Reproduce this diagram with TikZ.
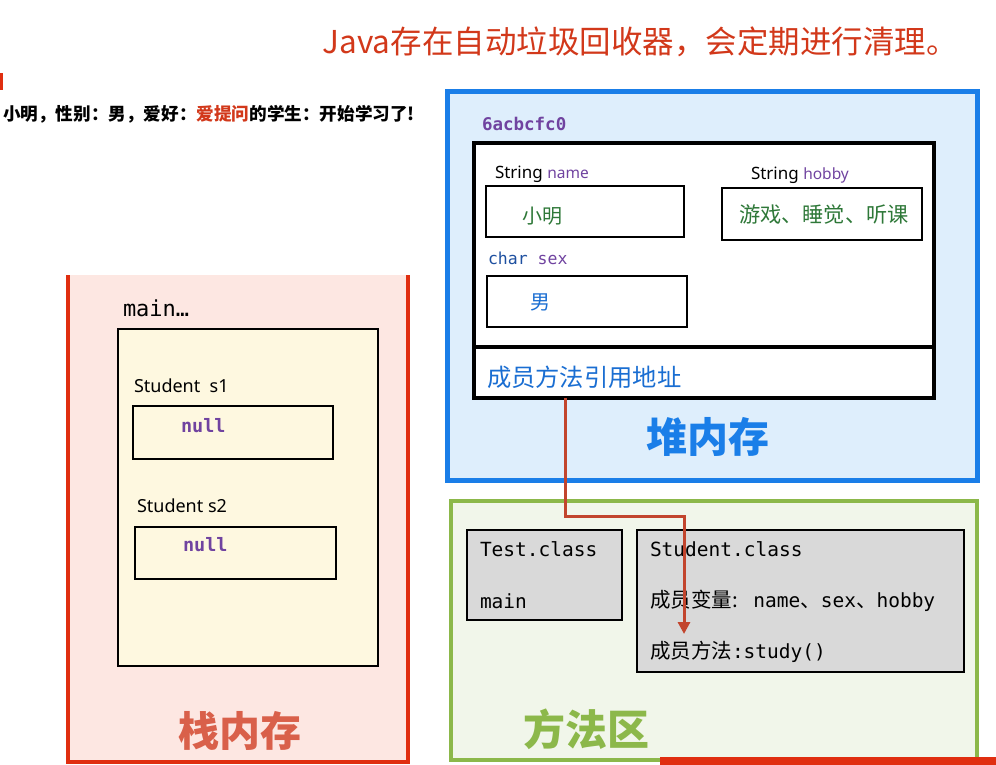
\documentclass[tikz,border=0pt]{standalone}
\usepackage{fontspec}
\setmainfont{Noto Sans}
\newfontfamily\cjk{Noto Sans CJK SC}
\newfontfamily\mono{DejaVu Sans Mono}
\usetikzlibrary{arrows.meta}
\definecolor{heapblue}{RGB}{26,126,232}
\definecolor{heapfill}{RGB}{222,238,252}
\definecolor{stackred}{RGB}{224,46,16}
\definecolor{stackfill}{RGB}{253,231,226}
\definecolor{yellowfill}{RGB}{254,248,224}
\definecolor{mgreen}{RGB}{140,184,74}
\definecolor{mfill}{RGB}{241,246,234}
\definecolor{stacktxt}{RGB}{217,96,74}
\definecolor{arrowred}{RGB}{194,69,45}
\definecolor{titlered}{RGB}{210,56,26}
\definecolor{vpurple}{RGB}{112,67,160}
\definecolor{vgreen}{RGB}{46,120,56}
\definecolor{vblue}{RGB}{26,110,210}
\definecolor{charblue}{RGB}{30,80,160}
\definecolor{grayfill}{RGB}{217,217,217}
\tikzset{
  fs/.style={font=\fontsize{#1}{#1}\selectfont},
  area/.style={draw, inner sep=0pt, outer sep=0pt},
  valbox/.style={draw=black, line width=2.5pt, fill=none, inner sep=0pt, outer sep=0pt},
  graybox/.style={draw=black, line width=2pt, fill=grayfill, inner sep=0pt, outer sep=0pt},
  lbl/.style={inner sep=0pt, outer sep=0pt, anchor=west},
  codetxt/.style={lbl, font=\fontsize{19.5}{19.5}\selectfont\mono},
}
\newcommand{\cjkm}[1]{{\fontsize{20.5}{20.5}\selectfont\cjk #1}}
\begin{document}
\begin{tikzpicture}[x=1pt,y=-1pt]
\useasboundingbox (0,0) rectangle (996,765);
\fill[white] (0,0) rectangle (996,765);

% top title
\node[inner sep=0pt, text=titlered, font=\fontsize{31.5}{31.5}\selectfont\cjk] (title) at (640,42) {Java存在自动垃圾回收器，会定期进行清理。};
% left console text
\node[lbl, font=\fontsize{17.6}{17.6}\selectfont\cjk\bfseries] (console) at (3,114) {小明，性别：男，爱好：\textcolor{titlered}{爱提问}的学生：开始学习了!};
\fill[stackred] (0,73) rectangle (3,90);

% ---------- stack ----------
\node[inner sep=0pt, outer sep=0pt, fill=stackfill, minimum width=340pt, minimum height=487pt] (stack) at (238,518.5) {};
\draw[stackred, line width=4pt] (stack.north west) -- (stack.south west) -- (stack.south east) -- (stack.north east);
\node[lbl, font=\fontsize{22}{22}\selectfont\mono] (mainlbl) at (123,308) {main…};
\node[area, line width=1.5pt, fill=yellowfill, minimum width=260pt, minimum height=337pt] (frame) at (248,497.5) {};
\node[lbl, fs=18] (s1lbl) at (134,386) {Student\ \ s1};
\node[valbox, minimum width=200pt, minimum height=53pt] (s1box) at (233,432.5) {};
\node[lbl, text=vpurple, font=\fontsize{18.5}{18.5}\selectfont\mono\bfseries] (s1val) at (181,426) {null};
\node[lbl, fs=18] (s2lbl) at (137,506) {Student s2};
\node[valbox, minimum width=201pt, minimum height=52pt] (s2box) at (235.5,553) {};
\node[lbl, text=vpurple, font=\fontsize{18.5}{18.5}\selectfont\mono\bfseries] (s2val) at (183,545) {null};
\node[inner sep=0pt, text=stacktxt, font=\fontsize{41}{41}\selectfont\cjk\bfseries] (stacktitle) at (240,731) {栈内存};

% ---------- heap ----------
\node[area, draw=heapblue, line width=5pt, fill=heapfill, minimum width=530pt, minimum height=388pt] (heap) at (712,286) {};
\node[lbl, text=vpurple, font=\fontsize{17.5}{17.5}\selectfont\mono\bfseries] (addr) at (482,124) {6acbcfc0};
\node[area, draw=black, line width=3.5pt, fill=white, minimum width=460pt, minimum height=255pt] (obj) at (704,270.5) {};
\coordinate (divL) at (474,347);
\draw[black, line width=3.5pt] (divL) -- (divL -| obj.east);
\node[lbl, fs=17] (namelbl) at (495,174) {String \textcolor{vpurple}{\fontsize{15.5}{15.5}\selectfont name}};
\node[valbox, minimum width=198pt, minimum height=51pt] (namebox) at (585,211.5) {};
\node[lbl, text=vgreen, font=\fontsize{20}{20}\selectfont\cjk] (nameval) at (522,216) {小明};
\node[lbl, fs=17] (hobbylbl) at (751,175) {String \textcolor{vpurple}{\fontsize{15.5}{15.5}\selectfont hobby}};
\node[valbox, minimum width=200pt, minimum height=52pt] (hobbybox) at (822,214) {};
\node[lbl, text=vgreen, font=\fontsize{21.2}{21.2}\selectfont\cjk] (hobbyval) at (739,214) {游戏、睡觉、听课};
\node[lbl, font=\fontsize{16.5}{16.5}\selectfont\mono] (sexlbl) at (488,258) {\textcolor{charblue}{char} \textcolor{vpurple}{sex}};
\node[valbox, minimum width=200pt, minimum height=51pt] (sexbox) at (587,301.5) {};
\node[lbl, text=vblue, font=\fontsize{20}{20}\selectfont\cjk] (sexval) at (530,302) {男};
\node[lbl, text=vblue, font=\fontsize{24.3}{24.3}\selectfont\cjk] (mref) at (487,377) {成员方法引用地址};
\node[inner sep=0pt, text=heapblue, font=\fontsize{41}{41}\selectfont\cjk\bfseries] (heaptitle) at (708,437) {堆内存};

% ---------- method area ----------
\node[area, draw=mgreen, line width=4pt, fill=mfill, minimum width=526pt, minimum height=259pt] (marea) at (714,630.5) {};
\node[graybox, minimum width=155pt, minimum height=90pt] (testbox) at (544.5,575) {};
\node[codetxt] (testlbl) at (480,549) {Test.class};
\node[codetxt] (testmain) at (480,601) {main};
\node[graybox, minimum width=327pt, minimum height=142pt] (stubox) at (800.5,601) {};
\node[codetxt] (stulbl) at (650,549) {Student.class};
\node[codetxt] (stuvars) at (650,601) {\cjkm{成员变量:} name\cjkm{、}sex\cjkm{、}hobby};
\node[codetxt] (stumeth) at (650,652) {\cjkm{成员方法}:study()};
\node[inner sep=0pt, text=mgreen, font=\fontsize{42}{42}\selectfont\cjk\bfseries] (mtitle) at (586,729) {方法区};

% ---------- arrow ----------
\coordinate (arrS) at (565,398);
\coordinate (arrE) at (684,634);
\draw[arrowred, line width=3pt, -{Triangle[length=12pt,width=12pt]}] (arrS) -- ++(0,118) -| (arrE);

% bottom red strip
\fill[stackred] (660,757) rectangle (996,765);
\end{tikzpicture}
\end{document}
